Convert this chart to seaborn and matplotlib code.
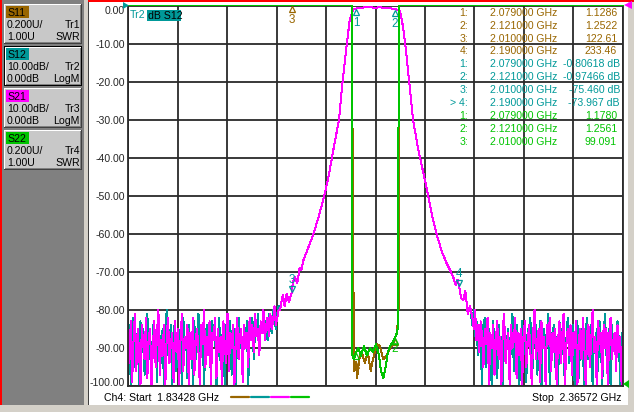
import numpy as np
import matplotlib
matplotlib.use("Agg")
import matplotlib.pyplot as plt
import matplotlib.transforms as mtransforms
from matplotlib.patches import Rectangle, Polygon
from matplotlib.lines import Line2D
import seaborn as sns

# sweep
f_start = 1.83428
f_stop = 2.36572

# S21 / S12 noise floor, left and right of the filter (dB)
s21_noise_left = [-86, -94, -83, -99, -88, -81, -96, -85, -91, -100, -84, -89, -93, -82, -98, -87, -85, -100, -90, -83,
                  -95, -86, -80, -97, -88, -92, -84, -100, -87, -82, -94, -89, -86, -99, -83, -91, -85, -100, -88, -81,
                  -96, -87, -90, -84, -100, -86, -93, -82, -97, -88, -85, -91, -100, -84, -89, -80, -95, -87, -92, -83,
                  -100, -86, -88, -82, -98, -85, -91, -87, -100, -83, -89, -94, -81, -96, -86, -90, -84, -100, -88, -82,
                  -93, -87, -85, -99, -84, -90, -86, -95, -82, -88, -84, -91, -81, -87, -85, -92, -83, -86, -80, -88,
                  -84, -82, -87, -81, -85, -83, -79, -84, -82, -80]
s12_noise_left = [-90, -84, -100, -87, -82, -95, -88, -86, -100, -83, -91, -85, -97, -89, -81, -93, -87, -100, -84, -90,
                  -86, -99, -82, -88, -94, -85, -100, -87, -80, -92, -89, -84, -100, -86, -83, -96, -88, -91, -85, -100,
                  -82, -89, -87, -98, -84, -90, -86, -100, -83, -93, -88, -81, -95, -87, -85, -100, -89, -84, -92, -86,
                  -99, -83, -88, -85, -100, -90, -82, -94, -87, -86, -100, -84, -89, -91, -83, -97, -88, -85, -100, -86,
                  -82, -90, -87, -95, -84, -89, -83, -100, -86, -88, -82, -93, -85, -87, -81, -90, -84, -86, -82, -85,
                  -83, -88, -81, -84, -86, -80, -83, -85, -81, -79]
s21_noise_right = [-82, -85, -80, -88, -84, -91, -83, -87, -95, -85, -89, -82, -100, -86, -90, -84, -97, -88, -83, -93,
                   -87, -100, -85, -81, -94, -89, -86, -100, -84, -90, -88, -82, -98, -86, -92, -85, -100, -87, -83, -95,
                   -89, -84, -91, -100, -86, -80, -93, -88, -85, -99, -83, -90, -87, -100, -84, -89, -82, -96, -86, -91,
                   -85, -100, -88, -83, -94, -87, -81, -100, -89, -85, -92, -84, -97, -86, -90, -83, -100, -88, -85, -93,
                   -82, -89, -100, -86, -84, -95, -88, -80, -91, -87, -100, -83, -89, -86, -98, -84, -90, -85, -100, -87,
                   -82, -93, -88, -86, -96, -84, -91, -87, -100, -85]
s12_noise_right = [-84, -80, -87, -83, -92, -86, -89, -100, -84, -82, -95, -88, -85, -91, -100, -83, -89, -86, -98, -84,
                   -90, -87, -100, -82, -93, -88, -85, -100, -86, -81, -96, -89, -84, -92, -100, -87, -83, -90, -86, -99,
                   -85, -88, -82, -100, -91, -86, -84, -97, -89, -83, -100, -87, -85, -93, -88, -81, -100, -90, -86, -84,
                   -95, -87, -100, -83, -89, -85, -92, -100, -88, -82, -94, -86, -90, -84, -100, -87, -83, -98, -89, -85,
                   -91, -100, -86, -82, -93, -88, -84, -100, -87, -90, -85, -96, -83, -89, -100, -86, -81, -92, -88, -85,
                   -100, -84, -90, -87, -95, -83, -88, -100, -86, -89]
noise_left_span = (1.83428, 1.9960)
noise_right_span = (2.2040, 2.36572)

# filter response (skirts + passband), GHz / dB
band_f = [1.9975, 2.0005, 2.0025, 2.0047, 2.0070, 2.0100, 2.0115, 2.0136, 2.0160, 2.0185,
          2.0205, 2.0225, 2.0280, 2.0332, 2.0390, 2.0447, 2.0500, 2.0547, 2.0608, 2.0648,
          2.0683, 2.0723, 2.0748, 2.0769, 2.0790, 2.0834, 2.0887, 2.0941, 2.0995, 2.1048,
          2.1102, 2.1156, 2.1210, 2.1242, 2.1263, 2.1295, 2.1328, 2.1360, 2.1403, 2.1460,
          2.1531, 2.1567, 2.1610, 2.1657, 2.1710, 2.1764, 2.1800, 2.1835, 2.1860, 2.1880,
          2.1900, 2.1920, 2.1943, 2.1965, 2.1990, 2.2015]
band_db = [-80, -76, -79, -75.7, -78, -75.5, -72.5, -71.4, -73, -69,
           -69.5, -67, -63.5, -60.2, -55.5, -50.3, -44.5, -38, -30, -19.6,
           -12, -3.8, -1.8, -0.9, -0.8, -0.6, -0.5, -0.5, -0.55, -0.5,
           -0.6, -0.7, -0.97, -1.2, -1.5, -5.5, -12, -19.6, -30, -38,
           -45.9, -50.3, -55.5, -60.2, -64.5, -67.8, -69.5, -71.4, -73.5, -72,
           -74, -77, -77.5, -75, -81, -79]

# SWR traces (U), off-scale outside the passband
s11_f = [1.83428, 2.0100, 2.0745, 2.0769, 2.0790, 2.0801, 2.0826, 2.0851, 2.0887, 2.0916,
         2.0948, 2.0973, 2.1013, 2.1048, 2.1084, 2.1120, 2.1156, 2.1188, 2.1210, 2.1231,
         2.1247, 2.1255, 2.1900, 2.36572]
s11_swr = [300, 122.61, 20, 1.08, 1.1286, 1.04, 1.14, 1.18, 1.12, 1.18,
           1.08, 1.14, 1.22, 1.21, 1.14, 1.16, 1.20, 1.22, 1.2522, 1.28,
           1.40, 20, 233.46, 300]
s22_f = [1.83428, 2.0100, 2.0746, 2.0753, 2.0769, 2.0790, 2.0817, 2.0844, 2.0876, 2.0908,
         2.0941, 2.0973, 2.1005, 2.1037, 2.1059, 2.1084, 2.1108, 2.1134, 2.1166, 2.1188,
         2.1210, 2.1231, 2.1242, 2.1250, 2.36572]
s22_swr = [200, 99.091, 15, 1.16, 1.14, 1.178, 1.20, 1.16, 1.21, 1.16,
           1.20, 1.18, 1.22, 1.16, 1.08, 1.04, 1.10, 1.18, 1.22, 1.23,
           1.2561, 1.28, 1.32, 15, 200]

# markers
mk_freq = [2.079, 2.121, 2.010, 2.190]
s11_mk = [1.1286, 1.2522, 122.61, 233.46]
s12_mk = [-0.80618, -0.97466, -75.460, -73.967]
s22_mk = [1.1780, 1.2561, 99.091]

BROWN = '#996600'
TEAL = '#009999'
MAGENTA = '#ff00ff'
GREEN = '#00c400'
GRID = '#2a2a2a'

sns.set_style("white")
plt.rcParams['font.family'] = ['Liberation Sans', 'DejaVu Sans']
FS = 7.6

W, H = 634, 412
fig = plt.figure(figsize=(W / 100, H / 100), dpi=100)
fig.patch.set_facecolor('white')


def fx(x):
    return x / W


def fy(y):
    return 1 - y / H


def rect(x0, y0, x1, y1, color, z=0):
    fig.add_artist(Rectangle((fx(x0), fy(y1)), (x1 - x0) / W, (y1 - y0) / H,
                             transform=fig.transFigure, facecolor=color,
                             edgecolor='none', lw=0, zorder=z))


def ptext(x, y, s, **kw):
    kw.setdefault('fontsize', FS)
    kw.setdefault('va', 'center')
    fig.text(fx(x), fy(y), s, **kw)


def tri(points, color):
    fig.add_artist(Polygon([(fx(a), fy(b)) for a, b in points], closed=True,
                           transform=fig.transFigure, facecolor=color,
                           edgecolor='none', zorder=5))


# window frame / left panel
rect(0, 0, 88, 412, '#808080')
rect(84, 0, 88, 412, '#d4d0c8')
rect(88, 0, 89, 405, '#404040')
rect(0, 405, 634, 412, '#d4d0c8')
rect(628, 0, 634, 412, '#d4d0c8')
rect(0, 0, 2, 405, '#ff0000', z=3)
rect(88, 0, 634, 2, '#ff0000', z=3)

buttons = [
    ('S11', BROWN, '0.200U/', 'Tr1', '1.00U', 'SWR'),
    ('S12', TEAL, '10.00dB/', 'Tr2', '0.00dB', 'LogM'),
    ('S21', MAGENTA, '10.00dB/', 'Tr3', '0.00dB', 'LogM'),
    ('S22', GREEN, '0.200U/', 'Tr4', '1.00U', 'SWR'),
]
for i, (name, col, l1, r1, l2, r2) in enumerate(buttons):
    top = 4 + 42 * i
    if name == 'S12':
        rect(4, top, 82, top + 40, '#000000')
        rect(5, top + 1, 81, top + 39, '#ffffff')
        rect(6, top + 2, 81, top + 39, '#808080')
        rect(6, top + 2, 80, top + 38, '#c8c8c8')
    else:
        rect(4, top, 82, top + 40, '#404040')
        rect(4, top, 81, top + 39, '#ffffff')
        rect(5, top + 1, 81, top + 39, '#808080')
        rect(5, top + 1, 80, top + 38, '#c8c8c8')
    rect(6, top + 2, 29, top + 14, col, z=1)
    ptext(7, top + 8.5, name, color='black', zorder=2)
    ptext(7, top + 21.5, l1, color='black')
    ptext(80, top + 21.5, r1, color='black', ha='right')
    ptext(7, top + 32.5, l2, color='black')
    ptext(80, top + 32.5, r2, color='black', ha='right')

# main graticule
ax = fig.add_axes([fx(128), fy(386), (623 - 128) / W, (386 - 5.5) / H])
ax.set_xlim(f_start, f_stop)
ax.set_ylim(-100, 0)
ax.set_xticks(np.linspace(f_start, f_stop, 11))
ax.set_xticklabels([])
yt = list(range(-100, 1, 10))
ax.set_yticks(yt)
ax.set_yticklabels([f"{v:.2f}" for v in yt], fontsize=FS)
ax.tick_params(axis='both', length=0, pad=2)
for lab in ax.get_yticklabels():
    if lab.get_text() == '0.00':
        lab.set_va('top')
    if lab.get_text() == '-100.00':
        lab.set_va('baseline')
ax.grid(True, color=GRID, lw=1.3)
ax.set_axisbelow(True)
for sp in ax.spines.values():
    sp.set_color(GRID)
    sp.set_linewidth(1.3)
ax.spines['top'].set_visible(False)

# S12 and S21 traces
f_left = np.linspace(*noise_left_span, len(s21_noise_left))
f_right = np.linspace(*noise_right_span, len(s21_noise_right))
s21_f = np.concatenate([f_left, band_f, f_right])
s21_db = np.concatenate([s21_noise_left, band_db, s21_noise_right])
f_left12 = np.linspace(*noise_left_span, len(s12_noise_left))
f_right12 = np.linspace(*noise_right_span, len(s12_noise_right))
s12_f = np.concatenate([f_left12, band_f, f_right12])
s12_db = np.concatenate([s12_noise_left, band_db, s12_noise_right])

# SWR traces on their own scale: 1.00U at the bottom, 0.2U/div
ax2 = ax.twinx()
ax2.set_ylim(1.0, 3.0)
ax2.set_axis_off()

trace_kw = dict(estimator=None, sort=False, antialiased=False, lw=0.72)
sns.lineplot(x=s11_f, y=np.minimum(s11_swr, 3.0), ax=ax2, color=BROWN,
             clip_on=False, zorder=2, **trace_kw)
sns.lineplot(x=s12_f, y=s12_db, ax=ax, color=TEAL, **trace_kw)
sns.lineplot(x=s21_f, y=s21_db, ax=ax, color=MAGENTA, **trace_kw)
sns.lineplot(x=s22_f, y=np.minimum(s22_swr, 3.0), ax=ax2, color=GREEN,
             clip_on=False, zorder=3, **trace_kw)


def off(a, dy):
    return mtransforms.offset_copy(a.transData, fig=fig, x=0, y=dy, units='points')


def marker(a, f, v, col, up=True, label=None, lab_dy=10.0):
    v = min(v, a.get_ylim()[1])
    if up:
        a.plot([f], [v], marker='^', ms=5, mfc='none', mec=col, mew=0.9,
               transform=off(a, -2.6), clip_on=False, zorder=6)
        if label:
            a.text(f, v, label, color=col, fontsize=FS + 0.8, ha='center', va='center',
                   transform=off(a, -lab_dy), clip_on=False, zorder=6)
    else:
        a.plot([f], [v], marker='v', ms=5, mfc='none', mec=col, mew=0.9,
               transform=off(a, 2.6), clip_on=False, zorder=6)
        if label:
            a.text(f, v, label, color=col, fontsize=FS + 0.8, ha='center', va='center',
                   transform=off(a, lab_dy), clip_on=False, zorder=6)


marker(ax, mk_freq[0], s12_mk[0], TEAL, True, '1', 10.5)
marker(ax, mk_freq[1], s12_mk[1], TEAL, True, '2', 10.5)
marker(ax, mk_freq[2], s12_mk[2], TEAL, False, '3', 9)
marker(ax, mk_freq[3], s12_mk[3], TEAL, False, '4', 9)
marker(ax2, mk_freq[2], s11_mk[2], BROWN, True, '3', 10.5)
marker(ax2, mk_freq[0], s11_mk[0], BROWN, True)
marker(ax2, mk_freq[1], s11_mk[1], BROWN, True)
marker(ax2, mk_freq[0], s22_mk[0], GREEN, True)
marker(ax2, mk_freq[1], s22_mk[1], GREEN, True, '2', 8.5)

# reference level arrows
tri([(123, 2), (129, 5.5), (123, 9)], TEAL)
tri([(632, 1), (624, 5), (632, 9)], MAGENTA)
tri([(629, 380), (623, 384), (629, 388)], GREEN)

# trace title
ptext(130, 15.5, 'Tr2', color=TEAL)
rect(146.5, 10.5, 181, 21, TEAL, z=4)
ptext(148, 15.8, 'dB S12', color='black', zorder=5)

# marker table
rows = []
for i, v in enumerate(s11_mk):
    rows.append((BROWN, f"{i + 1}:", mk_freq[i], f"{v:#.5g}", False))
for i, v in enumerate(s12_mk):
    lab = f"> {i + 1}:" if i == 3 else f"{i + 1}:"
    rows.append((TEAL, lab, mk_freq[i], f"{v:#.5g} dB", True))
for i, v in enumerate(s22_mk):
    rows.append((GREEN, f"{i + 1}:", mk_freq[i], f"{v:#.5g}", False))
for r, (col, lab, f, val, is_db) in enumerate(rows):
    y = 12.7 + 12.9 * r
    ptext(468, y, lab, color=col, ha='right', zorder=6)
    ptext(490, y, f"{f:.6f} GHz", color=col, zorder=6)
    ptext(620 if is_db else 617, y, val, color=col, ha='right', zorder=6)

# status line
ptext(104, 398, f"Ch4: Start  {f_start:.5f} GHz", color='black')
ptext(621, 398, f"Stop  {f_stop:.5f} GHz", color='black', ha='right')
for j, col in enumerate([BROWN, TEAL, MAGENTA, GREEN]):
    x0 = 231 + 20 * j
    fig.add_artist(Line2D([fx(x0), fx(x0 + 18)], [fy(396.7), fy(396.7)],
                          transform=fig.transFigure, color=col, lw=1.6))

fig.savefig('out.png', dpi=100)
